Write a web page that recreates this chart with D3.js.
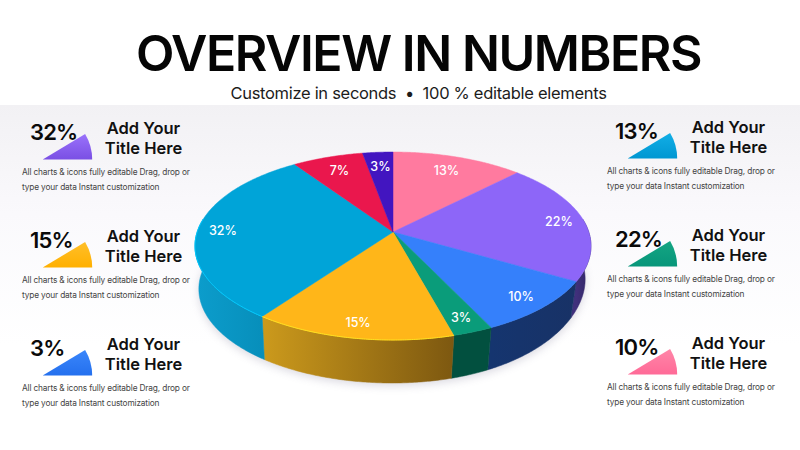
<!DOCTYPE html>
<html>
<head>
<meta charset="utf-8">
<script src="https://cdn.jsdelivr.net/npm/d3@7"></script>
<style>
  html, body { margin: 0; padding: 0; background: #fff; }
  svg { display: block; }
  text { font-family: Inter, "Noto Sans", sans-serif; }
</style>
</head>
<body>
<div id="chart"></div>
<script>
// data
var sliceValues = [13, 22, 10, 3, 15, 32, 7, 3];
var sliceColors = ["#ff7a9f", "#8d66f8", "#3580fb", "#0a9c7a", "#ffb619", "#00a4d8", "#ea174d", "#4215c0"];
var wallLeftColors = ["#c0567a", "#40307c", "#15356f", "#02503f", "#cc9a1c", "#0c9dcc", "#a01035", "#2c0e80"];
var wallRightColors = ["#c0567a", "#2f2562", "#183266", "#02503f", "#7d5810", "#078fbb", "#a01035", "#2c0e80"];

var titleText = "OVERVIEW IN NUMBERS";
var subtitleText = "Customize in seconds  \u2022  100 % editable elements";

var cardPercents = ["32%", "15%", "3%", "13%", "22%", "10%"];
var cardColumn = [0, 0, 0, 1, 1, 1];
var cardRow = [0, 1, 2, 0, 1, 2];
var cardTop = ["#9a72fb", "#ffbf2a", "#3a86fb", "#12aee6", "#14a583", "#ff86a8"];
var cardBottom = ["#7a4fe4", "#ffb000", "#2470ee", "#0097d2", "#08967a", "#ff6a97"];
var cardTitle = ["Add Your", "Title Here"];
var cardBody = ["All charts & icons fully editable Drag, drop or", "type your data Instant customization"];

var svgWidth = 800;
var svgHeight = 450;

var svg = d3.select("#chart")
  .append("svg")
  .attr("width", svgWidth)
  .attr("height", svgHeight);

var defs = svg.append("defs");

// background panel below the header
var bg = defs.append("linearGradient")
  .attr("id", "bgFade")
  .attr("x1", 0).attr("x2", 0).attr("y1", 0).attr("y2", 1);
bg.append("stop").attr("offset", "0%").attr("stop-color", "#f2f1f4");
bg.append("stop").attr("offset", "45%").attr("stop-color", "#faf9fc");
bg.append("stop").attr("offset", "100%").attr("stop-color", "#ffffff");

svg.append("rect")
  .attr("x", 0).attr("y", 105)
  .attr("width", svgWidth).attr("height", 240)
  .attr("fill", "url(#bgFade)");

// header
svg.append("text")
  .attr("x", 418.5).attr("y", 71)
  .attr("text-anchor", "middle")
  .attr("font-size", 50)
  .attr("font-weight", 600)
  .attr("letter-spacing", -1.45)
  .attr("fill", "#050505")
  .text(titleText);

svg.append("text")
  .attr("x", 418.5).attr("y", 98.5)
  .attr("text-anchor", "middle")
  .attr("font-size", 16.5)
  .attr("letter-spacing", -0.3)
  .attr("fill", "#1c1c1c")
  .style("white-space", "pre")
  .text(subtitleText);

// pie: tilted disc, projected with perspective so the apex sits behind the ellipse centre
var pieX = 393, pieY = 232;
var tilt = 0.149;

var project = function(angle, rho, bottom) {
  var u = Math.sin(angle) * rho;
  var v = -Math.cos(angle) * rho;
  var w = 1 - tilt * v;
  if (bottom) {
    // the wall is a little shallower on the right
    var depth = 43 - 10 * Math.pow(Math.max(u, 0), 3);
    return [pieX - 1 + 191 * u / w, pieY + depth + 91.9 * v / w];
  }
  return [pieX + 195.8 * u / w, pieY + 91.9 * v / w];
};

var pie = d3.pie().sort(null)(sliceValues);
var line = d3.line();

// points along a slice's rim, one every half degree or so
var rim = function(d, bottom) {
  var n = Math.ceil((d.endAngle - d.startAngle) / 0.01);
  return d3.range(n + 1).map(function(i) {
    return project(d.startAngle + (d.endAngle - d.startAngle) * i / n, 1, bottom);
  });
};

// only the front of the wall shows
var frontRim = function(d, bottom) {
  var pts = [];
  var n = Math.ceil((d.endAngle - d.startAngle) / 0.01);
  d3.range(n + 1).forEach(function(i) {
    var a = d.startAngle + (d.endAngle - d.startAngle) * i / n;
    if (Math.cos(a) < 0.15) pts.push(project(a, 1, bottom));
  });
  return pts;
};

// shadow
var shadow = defs.append("filter")
  .attr("id", "pieShadow")
  .attr("x", "-20%").attr("y", "-20%").attr("width", "140%").attr("height", "140%");
shadow.append("feGaussianBlur").attr("stdDeviation", 4);

var allAngle = { startAngle: 0, endAngle: Math.PI * 2 };
svg.append("path")
  .attr("d", line(rim(allAngle, true)) + "Z")
  .attr("transform", "translate(0,3)")
  .attr("fill", "#8a86a0")
  .attr("opacity", 0.3)
  .attr("filter", "url(#pieShadow)");

// walls
pie.forEach(function(d, i) {
  var top = frontRim(d, false);
  var low = frontRim(d, true);
  if (top.length < 2) return;
  var xs = top.map(function(p) { return p[0]; });
  var grad = defs.append("linearGradient")
    .attr("id", "wall" + i)
    .attr("gradientUnits", "userSpaceOnUse")
    .attr("x1", d3.min(xs)).attr("x2", d3.max(xs))
    .attr("y1", 0).attr("y2", 0);
  grad.append("stop").attr("offset", "0%").attr("stop-color", wallLeftColors[i]);
  grad.append("stop").attr("offset", "100%").attr("stop-color", wallRightColors[i]);
  svg.append("path")
    .attr("d", line(top.concat(low.reverse())) + "Z")
    .attr("fill", "url(#wall" + i + ")")
    .attr("stroke", "url(#wall" + i + ")")
    .attr("stroke-width", 0.5);
});

// top faces
pie.forEach(function(d, i) {
  svg.append("path")
    .attr("d", line([project(0, 0, false)].concat(rim(d, false))) + "Z")
    .attr("fill", sliceColors[i])
    .attr("stroke", sliceColors[i])
    .attr("stroke-width", 0.5);
});

// lit edge along the cyan and yellow rim
[4, 5].forEach(function(i) {
  svg.append("path")
    .attr("d", line(frontRim(pie[i], false)))
    .attr("fill", "none")
    .attr("stroke", d3.color(sliceColors[i]).brighter(0.6))
    .attr("stroke-width", 1);
});

// slice labels
pie.forEach(function(d) {
  var mid = (d.startAngle + d.endAngle) / 2;
  var rho = Math.cos(mid) > 0.5 ? 0.8 : 0.87;
  var p = project(mid, rho, false);
  svg.append("text")
    .attr("x", p[0]).attr("y", p[1] + 4.5)
    .attr("text-anchor", "middle")
    .attr("font-size", 12.5)
    .attr("font-weight", 500)
    .attr("fill", "#ffffff")
    .text(d.value + "%");
});

// side cards
var wedge = d3.arc()
  .innerRadius(0)
  .outerRadius(49.5)
  .startAngle(59 * Math.PI / 180)
  .endAngle(90 * Math.PI / 180);

cardPercents.forEach(function(label, i) {
  var dx = cardColumn[i] * 585;
  var dy = cardRow[i] * 108 - cardColumn[i];
  var card = svg.append("g")
    .attr("transform", "translate(" + dx + "," + dy + ")");

  var grad = defs.append("linearGradient")
    .attr("id", "cardFill" + i)
    .attr("x1", 0).attr("x2", 0).attr("y1", 0).attr("y2", 1);
  grad.append("stop").attr("offset", "0%").attr("stop-color", cardTop[i]);
  grad.append("stop").attr("offset", "100%").attr("stop-color", cardBottom[i]);

  card.append("path")
    .attr("transform", "translate(42.7,159.5)")
    .attr("d", wedge())
    .attr("fill", "url(#cardFill" + i + ")");

  card.append("text")
    .attr("x", 30).attr("y", 140)
    .attr("font-size", 22)
    .attr("font-weight", 600)
    .attr("letter-spacing", -0.8)
    .attr("fill", "#0a0a0a")
    .text(label);

  cardTitle.forEach(function(t, j) {
    card.append("text")
      .attr("x", 143.5).attr("y", 134 + j * 20)
      .attr("text-anchor", "middle")
      .attr("font-size", 16.5)
      .attr("font-weight", 600)
      .attr("fill", "#111111")
      .text(t);
  });

  cardBody.forEach(function(t, j) {
    card.append("text")
      .attr("x", 22).attr("y", 175 + j * 15)
      .attr("font-size", 8.3)
      .attr("letter-spacing", -0.15)
      .attr("fill", "#444444")
      .text(t);
  });
});
</script>
</body>
</html>
